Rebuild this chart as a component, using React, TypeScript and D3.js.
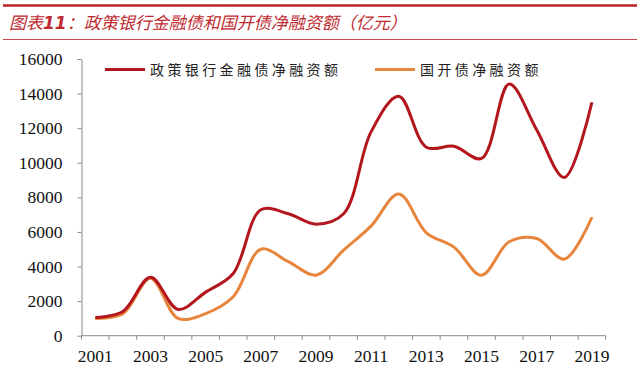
import React, { useEffect, useRef } from "react";
import * as d3 from "d3";

const years = ["2001", "2002", "2003", "2004", "2005", "2006", "2007", "2008", "2009", "2010",
  "2011", "2012", "2013", "2014", "2015", "2016", "2017", "2018", "2019"];
const policyBank = [1050, 1400, 3380, 1520, 2520, 3600, 7280, 7050, 6450, 7050,
  11800, 13850, 10900, 10950, 10250, 14550, 11900, 9150, 13500];
const cdb = [1000, 1270, 3320, 1000, 1280, 2250, 5000, 4280, 3500, 4950,
  6350, 8200, 5950, 5120, 3500, 5430, 5620, 4430, 6850];
const yTicks = [0, 2000, 4000, 6000, 8000, 10000, 12000, 14000, 16000];
const xLabels = ["2001", "2003", "2005", "2007", "2009", "2011", "2013", "2015", "2017", "2019"];

const RED = "#B4161E";
const ORANGE = "#E8853D";
const SERIF = "'Liberation Serif', 'Times New Roman', serif";

export default function App() {
  const ref = useRef<SVGSVGElement>(null);

  useEffect(() => {
    const width = 640;
    const height = 367;
    const margin = { top: 59, left: 81.5, bottom: 31.3, right: 34.3 };
    const iwidth = width - margin.left - margin.right;
    const iheight = height - margin.top - margin.bottom;

    const root = d3.select(ref.current);
    root.selectAll("*").remove();

    // title block
    root.append("line").attr("x1", 3).attr("x2", 637).attr("y1", 5.5).attr("y2", 5.5)
      .attr("stroke", "#B8262C").attr("stroke-width", 2.5);
    root.append("line").attr("x1", 3).attr("x2", 637).attr("y1", 39.5).attr("y2", 39.5)
      .attr("stroke", "#C9474B").attr("stroke-width", 1);
    const title = root.append("text").attr("x", 9).attr("y", 29)
      .attr("fill", "#BE2A30").attr("font-family", "'Noto Sans CJK SC'")
      .attr("font-size", 17).attr("font-style", "italic");
    title.append("tspan").text("图表");
    title.append("tspan").attr("font-weight", "bold").attr("font-family", "'DejaVu Sans'").text("11");
    title.append("tspan").text("：政策银行金融债和国开债净融资额（亿元）");

    const svg = root.append("g").attr("transform", `translate(${margin.left},${margin.top})`);

    const x = d3.scaleBand().domain(years).range([0, iwidth]).padding(0);
    const y = d3.scaleLinear().domain([0, 16000]).range([iheight, 0]);

    const yAxis = svg.append("g").call(d3.axisLeft(y).tickValues(yTicks).tickFormat(d3.format("d"))
      .tickSize(4).tickPadding(15).tickSizeOuter(0));
    yAxis.select(".domain").attr("stroke", "#8a8a8a");
    yAxis.selectAll(".tick line").attr("stroke", "#8a8a8a");
    yAxis.selectAll("text").attr("font-family", SERIF).attr("font-size", 17.5).attr("fill", "#111");

    // category boundary ticks
    const xAxis = svg.append("g").attr("transform", `translate(0,${iheight})`);
    xAxis.append("line").attr("x1", 0).attr("x2", iwidth).attr("stroke", "#8a8a8a");
    xAxis.selectAll("line.tk").data(d3.range(years.length + 1)).enter().append("line")
      .attr("class", "tk")
      .attr("x1", i => i * x.step()).attr("x2", i => i * x.step())
      .attr("y1", 0).attr("y2", 4).attr("stroke", "#8a8a8a");
    xAxis.selectAll("text").data(xLabels).enter().append("text")
      .attr("x", d => (x(d) as number) + x.bandwidth() / 2)
      .attr("y", 26.5)
      .attr("text-anchor", "middle")
      .attr("font-family", SERIF).attr("font-size", 17.5).attr("fill", "#111")
      .text(d => d);

    const line = d3.line<number>()
      .x((_, i) => (x(years[i]) as number) + x.bandwidth() / 2)
      .y(d => y(d))
      .curve(d3.curveCatmullRom.alpha(0.5));

    svg.append("path").datum(cdb).attr("d", line).attr("fill", "none")
      .attr("stroke", ORANGE).attr("stroke-width", 3);
    svg.append("path").datum(policyBank).attr("d", line).attr("fill", "none")
      .attr("stroke", RED).attr("stroke-width", 3);

    // legend
    const legend = [
      { label: "政策银行金融债净融资额", color: RED, x: 105 },
      { label: "国开债净融资额", color: ORANGE, x: 375 },
    ];
    legend.forEach(l => {
      root.append("line").attr("x1", l.x).attr("x2", l.x + 40).attr("y1", 69.5).attr("y2", 69.5)
        .attr("stroke", l.color).attr("stroke-width", 3);
      root.append("text").attr("x", l.x + 45).attr("y", 75)
        .attr("font-family", "'Noto Sans CJK SC'").attr("font-size", 14)
        .attr("letter-spacing", 3.4).attr("fill", "#222").text(l.label);
    });
  }, []);

  return (
    <div style={{ position: "absolute", left: 0, top: 0 }}>
      <svg ref={ref} width={640} height={367} style={{ display: "block", background: "#fff" }} />
    </div>
  );
}
